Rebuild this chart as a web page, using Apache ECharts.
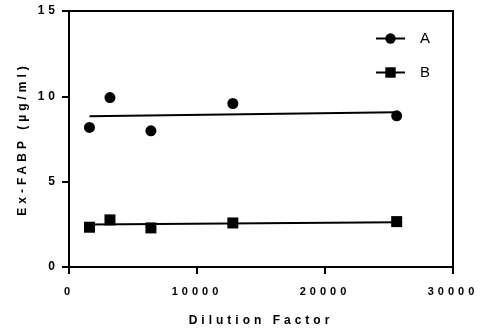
<!DOCTYPE html>
<html>
<head>
<meta charset="utf-8">
<script src="https://cdn.jsdelivr.net/npm/echarts@6/dist/echarts.min.js"></script>
<style>
  html, body { margin: 0; padding: 0; background: #fff; }
  #chart { width: 486px; height: 331px; }
</style>
</head>
<body>
<div id="chart"></div>
<script>
// dilution factors and measured values
const dilution = [1600, 3200, 6400, 12800, 25600]
const valuesA = [8.18, 9.93, 7.98, 9.58, 8.86]
const valuesB = [2.33, 2.76, 2.29, 2.58, 2.66]
// fitted lines, ends
const fitX = [1600, 25600]
const fitA = [8.84, 9.07]
const fitB = [2.49, 2.62]
const xTicks = [0, 10000, 20000, 30000]
const yTicks = [0, 5, 10, 15]

// the original uses wide letter spacing on its bold labels
const proto = CanvasRenderingContext2D.prototype
const rawFillText = proto.fillText
proto.fillText = function (text, x, y, maxW) {
  this.letterSpacing = /bold/.test(this.font) ? '4px' : '0px'
  return maxW === undefined
    ? rawFillText.call(this, text, x, y)
    : rawFillText.call(this, text, x, y, maxW)
}

const FONT = "'Liberation Sans', Arial, sans-serif"
const pairs = (xs, ys) => xs.map((x, i) => [x, ys[i]])

const chart = echarts.init(document.getElementById('chart'))
chart.setOption({
  animation: false,
  grid: {
    left: 69, right: 33, top: 11, bottom: 64,
    show: true, borderColor: '#000', borderWidth: 2,
    outerBoundsMode: 'none',
  },
  legend: {
    right: 51, top: 26,
    orient: 'vertical',
    itemWidth: 29, itemHeight: 13, itemGap: 19,
    textStyle: { fontFamily: FONT, fontSize: 15, color: '#000', padding: [0, 0, 0, 10] },
    lineStyle: { width: 2, color: '#000', opacity: 1 },
    data: ['A', 'B'],
  },
  xAxis: {
    type: 'value',
    min: xTicks[0], max: xTicks[xTicks.length - 1], interval: 10000,
    name: 'Dilution Factor', nameLocation: 'middle', nameGap: 48,
    nameTextStyle: { fontFamily: FONT, fontSize: 12, fontWeight: 'bold', color: '#000' },
    axisLine: { lineStyle: { color: '#000', width: 2 } },
    axisTick: { show: true, length: 7, lineStyle: { color: '#000', width: 2 } },
    axisLabel: {
      margin: 19, fontFamily: FONT, fontSize: 11, fontWeight: 'bold', color: '#000',
      formatter: (v) => String(v),
    },
    splitLine: { show: false },
  },
  yAxis: {
    type: 'value',
    min: yTicks[0], max: yTicks[yTicks.length - 1], interval: 5,
    name: 'Ex-FABP (µg/ml)', nameLocation: 'middle', nameGap: 40,
    nameTextStyle: { fontFamily: FONT, fontSize: 12, fontWeight: 'bold', color: '#000' },
    axisLine: { lineStyle: { color: '#000', width: 2 } },
    axisTick: { show: true, length: 7, lineStyle: { color: '#000', width: 2 } },
    axisLabel: { margin: 10, fontFamily: FONT, fontSize: 12, fontWeight: 'bold', color: '#000' },
    splitLine: { show: false },
  },
  series: [
    {
      name: 'A', type: 'line', data: pairs(dilution, valuesA),
      symbol: 'circle', symbolSize: 11,
      itemStyle: { color: '#000' }, lineStyle: { opacity: 0 },
    },
    {
      name: 'B', type: 'line', data: pairs(dilution, valuesB),
      symbol: 'rect', symbolSize: 11,
      itemStyle: { color: '#000' }, lineStyle: { opacity: 0 },
    },
    {
      name: 'fit A', type: 'line', data: pairs(fitX, fitA),
      showSymbol: false, lineStyle: { color: '#000', width: 2 }, z: 1,
    },
    {
      name: 'fit B', type: 'line', data: pairs(fitX, fitB),
      showSymbol: false, lineStyle: { color: '#000', width: 2 }, z: 1,
    },
  ],
})
</script>
</body>
</html>
